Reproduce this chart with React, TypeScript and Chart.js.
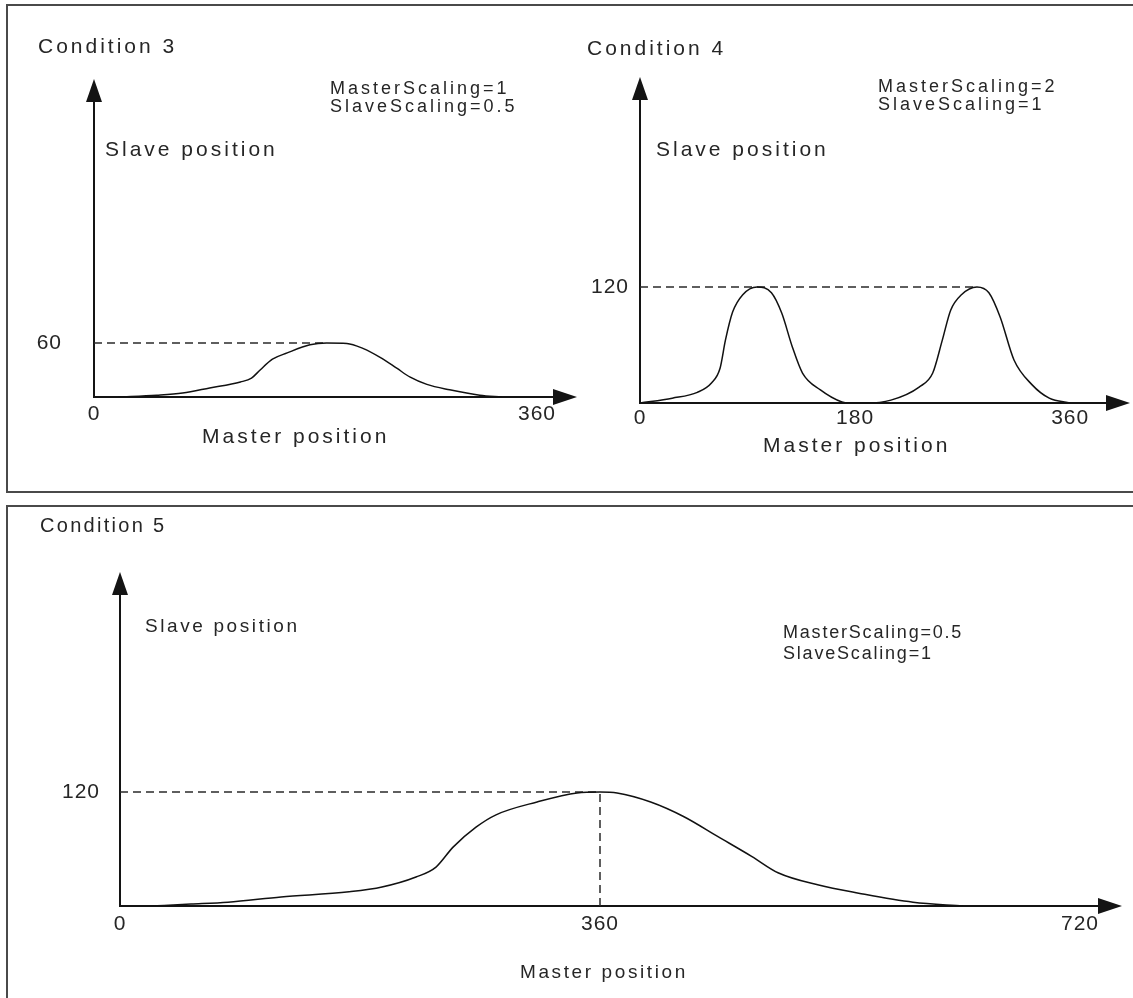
import React, { useEffect, useRef } from "react";
import { Chart, registerables } from "chart.js";

Chart.register(...registerables);

const W = 1133;
const H = 998;

// ---------- Condition 3 (MasterScaling=1, SlaveScaling=0.5) ----------
const cond3Master = [19.5, 51, 72, 94, 119, 128, 135, 145, 157, 175.5, 189, 205.5, 218.5, 232.5, 246, 257, 270.5, 289, 313.5, 331.5];
const cond3Slave = [0, 2, 4.4, 10, 16.7, 21, 30, 42, 49, 58, 60, 59.5, 54, 44, 32, 22, 14, 8, 2, 0];
const cond3XTicks = [0, 360];
const cond3YTicks = [60];
const cond3GuideX = [0, 190];
const cond3GuideY = [60, 60];

// ---------- Condition 4 (MasterScaling=2, SlaveScaling=1) ----------
const cond4Master = [0, 27, 48, 60, 67, 71.5, 77.5, 86, 98, 110, 118.6, 127.5, 136, 151, 169, 175, 189, 210, 233.6, 245, 253, 260, 269, 282, 292, 301.4, 313, 328, 342.5, 360];
const cond4Slave = [0, 5, 11, 21, 36, 65, 94, 112, 120, 114, 93, 58, 31, 13.5, 1, 0, 0, 3, 16.5, 31, 65, 96, 112, 120, 114, 89, 44.5, 19, 5, 0];
const cond4XTicks = [0, 180, 360];
const cond4YTicks = [120];
const cond4GuideX = [0, 282];
const cond4GuideY = [120, 120];

// ---------- Condition 5 (MasterScaling=0.5, SlaveScaling=1) ----------
const cond5Master = [23, 53.3, 81, 120.8, 171.8, 196.5, 222, 237, 249.8, 267, 282, 312.8, 342.8, 360, 372.8, 398, 423, 448.5, 474, 493.5, 524, 554, 594.8, 632.3];
const cond5Slave = [0, 2, 4, 9.5, 15, 20, 30.5, 41, 62, 83, 96, 109.5, 119, 120, 119, 109.5, 94, 73, 52, 35, 22, 13.5, 4, 0];
const cond5XTicks = [0, 360, 720];
const cond5YTicks = [120];
const cond5GuideHX = [0, 360];
const cond5GuideHY = [120, 120];
const cond5GuideVX = [360, 360];
const cond5GuideVY = [0, 120];

// ---------- layout (pixel placement of each plot area) ----------
type Area = { left: number; top: number; right: number; bottom: number };
type Panel = {
  master: number[];
  slave: number[];
  guides: { x: number[]; y: number[] }[];
  xTicks: number[];
  yTicks: number[];
  xMax: number;
  yMax: number;
  area: Area;
  xPad: number;
  yPad: number;
};

const panels: Panel[] = [
  {
    master: cond3Master,
    slave: cond3Slave,
    guides: [{ x: cond3GuideX, y: cond3GuideY }],
    xTicks: cond3XTicks,
    yTicks: cond3YTicks,
    xMax: 373,
    yMax: 327.8,
    area: { left: 94, top: 102, right: 553, bottom: 397 },
    xPad: 5,
    yPad: 32,
  },
  {
    master: cond4Master,
    slave: cond4Slave,
    guides: [{ x: cond4GuideX, y: cond4GuideY }],
    xTicks: cond4XTicks,
    yTicks: cond4YTicks,
    xMax: 390,
    yMax: 313.4,
    area: { left: 640, top: 100, right: 1106, bottom: 403 },
    xPad: 3,
    yPad: 11,
  },
  {
    master: cond5Master,
    slave: cond5Slave,
    guides: [
      { x: cond5GuideHX, y: cond5GuideHY },
      { x: cond5GuideVX, y: cond5GuideVY },
    ],
    xTicks: cond5XTicks,
    yTicks: cond5YTicks,
    xMax: 733.5,
    yMax: 327.4,
    area: { left: 120, top: 595, right: 1098, bottom: 906 },
    xPad: 6,
    yPad: 20,
  },
];

// text styles: [font size, letter spacing]
const STYLE: Record<string, [number, number]> = {
  cond: [21, 3],
  axis: [21, 3],
  scale: [18, 3],
  cond5: [20, 2.3],
  axis5: [19, 2.6],
  scale5: [18, 1.8],
};

const labels = [
  { text: "Condition 3", x: 38, y: 38, s: "cond" },
  { text: "MasterScaling=1", x: 330, y: 81, s: "scale" },
  { text: "SlaveScaling=0.5", x: 330, y: 99, s: "scale" },
  { text: "Slave position", x: 105, y: 141, s: "axis" },
  { text: "Master position", x: 202, y: 428, s: "axis" },
  { text: "Condition 4", x: 587, y: 40, s: "cond" },
  { text: "MasterScaling=2", x: 878, y: 79, s: "scale" },
  { text: "SlaveScaling=1", x: 878, y: 97, s: "scale" },
  { text: "Slave position", x: 656, y: 141, s: "axis" },
  { text: "Master position", x: 763, y: 437, s: "axis" },
  { text: "Condition 5", x: 40, y: 518, s: "cond5" },
  { text: "Slave position", x: 145, y: 618, s: "axis5" },
  { text: "MasterScaling=0.5", x: 783, y: 625, s: "scale5" },
  { text: "SlaveScaling=1", x: 783, y: 646, s: "scale5" },
  { text: "Master position", x: 520, y: 964, s: "axis5" },
];

const FONT_FAMILY = "'Liberation Sans', Arial, sans-serif";
const INK = "#141414";
const TEXT = "#262626";

const arrowPlugin = {
  id: "axisArrows",
  beforeDraw(chart: any) {
    chart.ctx.letterSpacing = "1px";
  },
  afterDraw(chart: any) {
    const { ctx, chartArea } = chart;
    const { left, top, right, bottom } = chartArea;
    ctx.save();
    ctx.fillStyle = INK;
    ctx.beginPath();
    ctx.moveTo(left, top - 23);
    ctx.lineTo(left - 8, top);
    ctx.lineTo(left + 8, top);
    ctx.closePath();
    ctx.fill();
    ctx.beginPath();
    ctx.moveTo(right + 24, bottom);
    ctx.lineTo(right, bottom - 8);
    ctx.lineTo(right, bottom + 8);
    ctx.closePath();
    ctx.fill();
    ctx.restore();
    ctx.letterSpacing = "0px";
  },
};

function makeConfig(p: Panel): any {
  const tickFont = { family: FONT_FAMILY, size: 21 };
  const datasets: any[] = [
    {
      data: p.master.map((x, i) => ({ x, y: p.slave[i] })),
      borderColor: "#111111",
      borderWidth: 1.5,
      pointRadius: 0,
      tension: 0.4,
      cubicInterpolationMode: "monotone",
      fill: false,
    },
    ...p.guides.map((g) => ({
      data: g.x.map((x, i) => ({ x, y: g.y[i] })),
      borderColor: "#2a2a2a",
      borderWidth: 1.5,
      borderDash: [8, 5],
      pointRadius: 0,
      tension: 0,
      fill: false,
    })),
  ];
  return {
    type: "line",
    data: { datasets },
    options: {
      animation: false,
      responsive: false,
      maintainAspectRatio: false,
      devicePixelRatio: 1,
      events: [],
      layout: { padding: { left: 0, top: p.area.top, right: W - p.area.right, bottom: 0 } },
      plugins: {
        legend: { display: false },
        tooltip: { enabled: false },
        title: { display: false },
      },
      scales: {
        x: {
          type: "linear",
          min: 0,
          max: p.xMax,
          offset: false,
          grid: { display: false, drawTicks: false },
          border: { display: true, color: INK, width: 2 },
          ticks: {
            padding: p.xPad,
            font: tickFont,
            color: TEXT,
            autoSkip: false,
            maxRotation: 0,
            minRotation: 0,
            callback: (v: any) => String(v),
          },
          afterBuildTicks: (s: any) => {
            s.ticks = p.xTicks.map((v) => ({ value: v }));
          },
          afterFit: (s: any) => {
            s.height = H - p.area.bottom;
          },
        },
        y: {
          type: "linear",
          min: 0,
          max: p.yMax,
          grid: { display: false, drawTicks: false },
          border: { display: true, color: INK, width: 2 },
          ticks: {
            padding: p.yPad,
            font: tickFont,
            color: TEXT,
            autoSkip: false,
            callback: (v: any) => String(v),
          },
          afterBuildTicks: (s: any) => {
            s.ticks = p.yTicks.map((v) => ({ value: v }));
          },
          afterFit: (s: any) => {
            s.width = p.area.left;
          },
        },
      },
    },
    plugins: [arrowPlugin],
  };
}

function PanelChart({ panel }: { panel: Panel }) {
  const ref = useRef<HTMLCanvasElement | null>(null);
  useEffect(() => {
    if (!ref.current) return;
    const chart = new Chart(ref.current, makeConfig(panel));
    return () => chart.destroy();
  }, [panel]);
  return (
    <canvas
      ref={ref}
      width={W}
      height={H}
      style={{ position: "absolute", left: 0, top: 0, width: W, height: H }}
    />
  );
}

export default function App() {
  return (
    <div
      style={{
        position: "absolute",
        left: 0,
        top: 0,
        width: W,
        height: H,
        overflow: "hidden",
        background: "#ffffff",
      }}
    >
      <div
        style={{
          position: "absolute",
          left: 6,
          top: 4,
          width: 1200,
          height: 489,
          border: "2px solid #4a4a4a",
          boxSizing: "border-box",
        }}
      />
      <div
        style={{
          position: "absolute",
          left: 6,
          top: 505,
          width: 1200,
          height: 600,
          border: "2px solid #4a4a4a",
          boxSizing: "border-box",
        }}
      />
      {panels.map((p, i) => (
        <PanelChart key={i} panel={p} />
      ))}
      {labels.map((l, i) => {
        const [fs, ls] = STYLE[l.s];
        return (
          <div
            key={i}
            style={{
              position: "absolute",
              left: l.x,
              top: l.y - Math.round(0.13 * fs),
              fontFamily: FONT_FAMILY,
              fontSize: fs,
              lineHeight: fs + "px",
              letterSpacing: ls + "px",
              color: TEXT,
              whiteSpace: "nowrap",
            }}
          >
            {l.text}
          </div>
        );
      })}
    </div>
  );
}
